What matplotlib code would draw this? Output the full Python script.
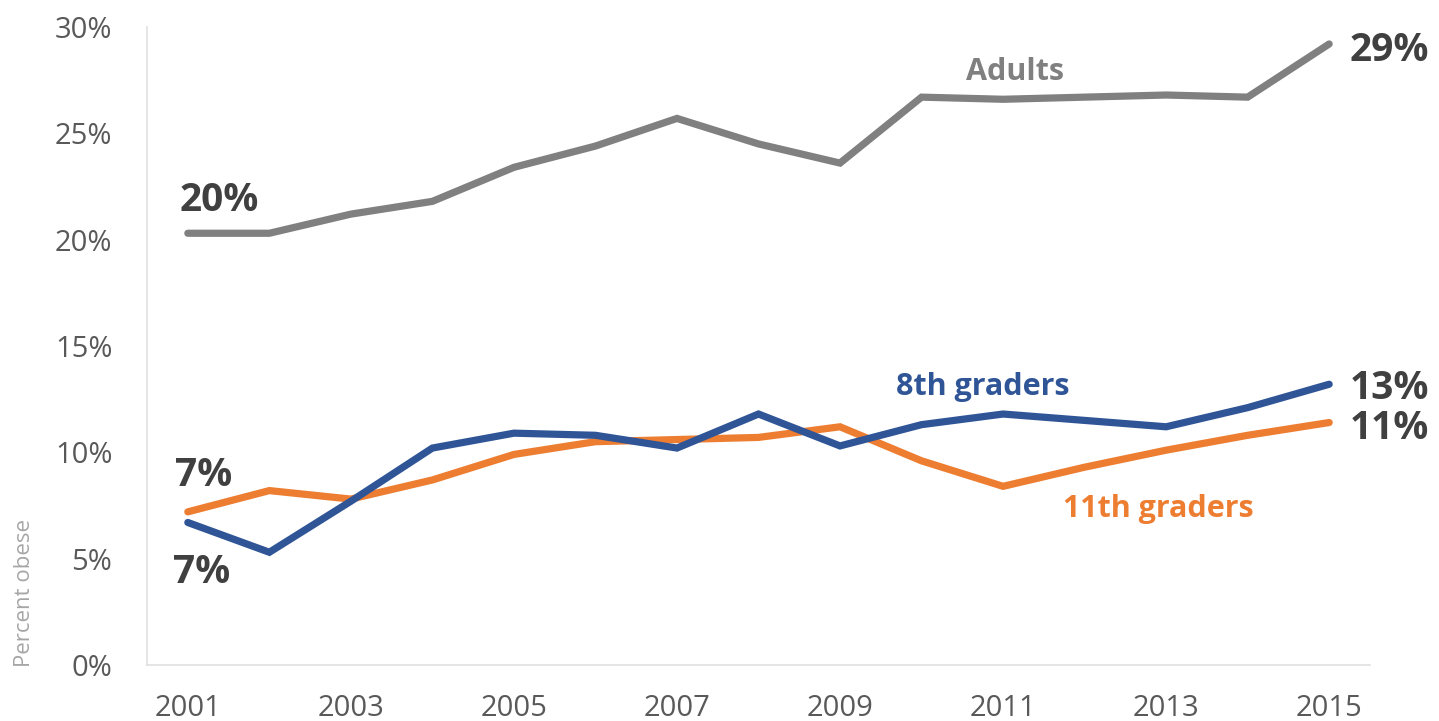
import matplotlib
matplotlib.use("Agg")
import matplotlib.pyplot as plt
from matplotlib.ticker import FuncFormatter

years = list(range(2001, 2016))
adults = [20.3, 20.3, 21.2, 21.8, 23.4, 24.4, 25.7, 24.5, 23.6, 26.7, 26.6, 26.7, 26.8, 26.7, 29.2]
grade8 = [6.7, 5.3, 7.7, 10.2, 10.9, 10.8, 10.2, 11.8, 10.3, 11.3, 11.8, 11.5, 11.2, 12.1, 13.2]
grade11 = [7.2, 8.2, 7.8, 8.7, 9.9, 10.5, 10.6, 10.7, 11.2, 9.6, 8.4, 9.3, 10.1, 10.8, 11.4]
yticks = [0, 5, 10, 15, 20, 25, 30]
xticks = [2001, 2003, 2005, 2007, 2009, 2011, 2013, 2015]

GRAY = "#808080"
BLUE = "#2F5597"
ORANGE = "#ED7D31"
DARK = "#404040"

plt.rcParams['font.family'] = ['Open Sans', 'DejaVu Sans']

fig = plt.figure(figsize=(14.39, 7.21), dpi=100)
ax = fig.add_axes([0.1022, 0.0777, 0.8498, 0.8849])

lw = 5.2
ax.plot(years, adults, color=GRAY, lw=lw, solid_capstyle='round', solid_joinstyle='miter')
ax.plot(years, grade11, color=ORANGE, lw=lw, solid_capstyle='round', solid_joinstyle='miter')
ax.plot(years, grade8, color=BLUE, lw=lw, solid_capstyle='round', solid_joinstyle='miter')

ax.set_xlim(2000.5, 2015.5)
ax.set_ylim(0, 30)
ax.set_yticks(yticks)
ax.yaxis.set_major_formatter(FuncFormatter(lambda v, p: f"{int(v)}%"))
ax.set_xticks(xticks)
ax.tick_params(axis='both', length=0, labelsize=21, colors="#595959")
ax.tick_params(axis='y', pad=25)
ax.tick_params(axis='x', pad=21)

for s in ['top', 'right']:
    ax.spines[s].set_visible(False)
for s in ['left', 'bottom']:
    ax.spines[s].set_color("#E0E0E0")
    ax.spines[s].set_linewidth(1.2)

fig.text(0.017, 0.1775, "Percent obese", rotation=90, fontsize=16, color="#A6A6A6",
         ha='center', va='center')

# series names
ax.text(2011.15, 27.9, "Adults", color=GRAY, fontsize=22, fontweight='bold', ha='center', va='center')
ax.text(2010.75, 13.05, "8th graders", color=BLUE, fontsize=22, fontweight='bold', ha='center', va='center')
ax.text(2012.9, 7.35, "11th graders", color=ORANGE, fontsize=22, fontweight='bold', ha='center', va='center')

# value labels
kw = dict(color=DARK, fontsize=28, fontweight='bold', ha='left', va='center')
ax.text(2000.9, 21.85, "20%", **kw)
ax.text(2015.25, 28.9, "29%", **kw)
ax.text(2015.25, 13.0, "13%", **kw)
ax.text(2015.25, 11.1, "11%", **kw)
ax.text(2000.84, 8.9, "7%", **kw)
ax.text(2000.82, 4.35, "7%", **kw)

fig.savefig("out.png", dpi=100)
